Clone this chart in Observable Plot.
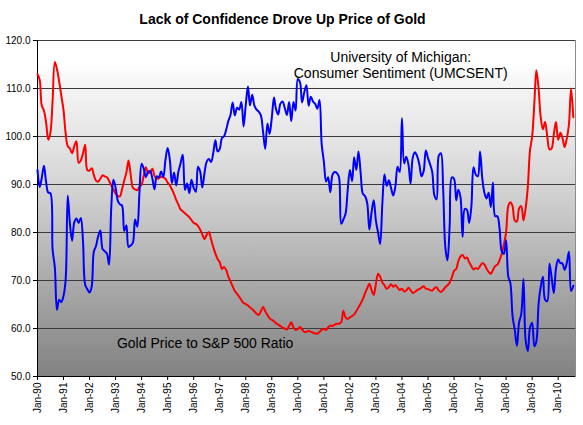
<!DOCTYPE html>
<html>
<head>
<meta charset="utf-8">
<script src="https://cdn.jsdelivr.net/npm/d3@7"></script>
<script src="https://cdn.jsdelivr.net/npm/@observablehq/plot@0.6"></script>
<style>
  html, body { margin: 0; padding: 0; background: #ffffff; }
  body { width: 583px; height: 425px; overflow: hidden; font-family: "Liberation Sans", Arial, sans-serif; }
  #title { width: 583px; height: 32px; box-sizing: border-box; padding-top: 11px; padding-right: 18px; text-align: center; font-weight: bold; font-size: 14px; line-height: 16px; color: #000; }
  #chart svg { display: block; }
</style>
</head>
<body>
<div id="title">Lack of Confidence Drove Up Price of Gold</div>
<div id="chart"></div>
<script>
// Monthly series, Jan 1990 .. Aug 2010
const startYear = 1990;

const umcsent = [
  93.0, 89.5, 91.3, 93.9, 90.6, 88.3, 88.2, 76.4, 72.8, 63.9, 66.0, 65.5,
  66.8, 70.4, 87.7, 81.8, 78.3, 82.1, 82.9, 82.0, 83.0, 78.3, 69.1, 68.2,
  67.5, 68.8, 76.0, 77.2, 79.2, 80.4, 76.6, 76.1, 75.6, 73.3, 85.3, 91.0,
  89.3, 86.6, 85.9, 85.6, 80.3, 81.5, 77.0, 77.3, 77.9, 82.7, 81.2, 88.2,
  94.3, 93.2, 91.5, 92.6, 92.8, 91.2, 89.0, 91.7, 91.5, 92.7, 91.6, 95.1,
  97.6, 95.1, 90.3, 92.5, 89.8, 92.7, 94.4, 96.2, 88.9, 90.2, 88.2, 91.0,
  89.3, 88.5, 93.7, 92.7, 89.4, 92.4, 94.7, 95.3, 94.7, 96.5, 99.2, 96.9,
  97.4, 99.7, 100.0, 101.4, 103.2, 104.5, 107.1, 104.4, 106.0, 105.6, 107.2, 102.1,
  106.6, 110.4, 106.5, 108.7, 106.5, 105.6, 105.2, 104.4, 100.9, 97.4, 102.7, 100.5,
  103.9, 108.1, 105.7, 104.6, 106.8, 107.3, 106.0, 104.5, 107.2, 103.2, 107.2, 105.4,
  112.0, 111.3, 107.1, 109.2, 110.7, 106.4, 108.3, 107.3, 106.8, 105.8, 107.6, 98.4,
  94.7, 90.6, 91.5, 88.4, 92.0, 92.6, 92.4, 91.5, 81.8, 82.7, 83.9, 88.8,
  93.0, 90.7, 95.7, 93.0, 96.9, 92.4, 88.1, 87.6, 86.1, 80.6, 84.2, 86.7,
  82.4, 79.9, 77.6, 86.0, 92.1, 89.7, 90.9, 89.3, 87.7, 89.6, 93.7, 92.6,
  103.8, 94.4, 95.8, 94.2, 90.2, 95.6, 96.7, 95.9, 94.2, 91.7, 92.8, 97.1,
  95.5, 94.1, 92.6, 87.7, 86.9, 96.0, 96.5, 89.1, 76.9, 74.2, 81.6, 91.5,
  91.2, 86.7, 88.9, 87.4, 79.1, 84.9, 84.7, 82.0, 85.4, 93.6, 92.1, 91.7,
  96.9, 91.3, 88.4, 87.1, 88.3, 85.3, 90.4, 83.4, 83.4, 80.9, 76.1, 75.5,
  78.4, 70.8, 69.5, 62.6, 59.8, 56.4, 61.2, 63.0, 70.3, 57.6, 55.3, 60.1,
  61.2, 56.3, 57.3, 65.1, 68.7, 70.8, 66.0, 65.7, 73.5, 70.6, 67.4, 72.5,
  74.4, 73.6, 73.6, 72.2, 73.6, 76.0, 67.8, 68.9
];

const goldRatio = [
  113, 111.8, 106.5, 105.4, 103, 99.3, 100.8, 107.5, 115.5, 114, 111.5, 108.5,
  105.5, 100.5, 98, 97.5, 96.5, 98, 99, 94.5, 95, 96.5, 98.3, 93,
  92.9, 93.4, 92, 90.8, 90.6, 91.2, 91.9, 91.7, 91.5, 90.8, 89.8, 89,
  88.1, 87.6, 87.5, 89, 90.8, 92.5, 95, 92, 89.3, 89, 88.8, 89.5,
  90, 92, 93.6, 92.4, 92.5, 93.3, 91.8, 91.2, 91.3, 91.6, 91.5, 91.2,
  90.4, 89.8, 89, 88, 86.8, 85.8, 84.8, 84.4, 84, 83.6, 83.2, 82.6,
  82, 81.8, 81.4, 80.6, 79.6, 78.6, 79.5, 80.1, 78.6, 77, 75.6, 74.5,
  73.8, 72.4, 72.8, 72.2, 70.8, 69.8, 68.8, 67.8, 67.2, 66.6, 65.9, 65.3,
  65.1, 64.8, 64.4, 64, 63.6, 63.1, 62.8, 63.6, 64.5, 63.6, 62.8, 62.1,
  61.8, 61.5, 61.1, 60.8, 60.5, 60.2, 60, 59.8, 60.5, 61.3, 60.2, 59.7,
  59.9, 60.3, 59.8, 59.3, 59.3, 59.5, 59.3, 59.1, 59, 58.9, 59.3, 59.7,
  59.9, 59.7, 60.2, 60.6, 60.5, 60.8, 61, 61, 61.3, 63.7, 62.3, 62,
  62.3, 62.6, 62.9, 63.6, 64.4, 65.2, 66.1, 67.3, 68.4, 69.3, 68, 67,
  69.3, 71.4, 70.8, 69.6, 69, 68.3, 68.6, 69.2, 68.7, 69, 68.5, 68,
  68.3, 67.7, 67.9, 68.5, 68, 67.4, 67.6, 68, 68.2, 68.5, 68.8, 68.3,
  68.2, 68, 67.9, 68.4, 68.6, 67.9, 67.6, 68, 68.6, 69, 69.6, 70.6,
  72, 72.4, 74, 75, 75.3, 74.6, 74.8, 73.8, 73, 72.3, 72.6, 72.4,
  73, 73.6, 73.4, 72.5, 71.8, 71.4, 72.2, 73, 73.3, 74.2, 75.6, 77.5,
  80, 85.5, 86.3, 85.5, 82.5, 82.3, 85, 85.5, 82.5, 85, 89.5, 97,
  100, 107, 113.8, 110, 104, 101.5, 103, 100, 97.3, 97.5, 100.5, 103,
  99.3, 100.8, 99.8, 97.8, 99.5, 102.5, 110, 104
];

const yTicks = [50, 60, 70, 80, 90, 100, 110, 120];
const tickYears = d3.range(1990, 2011);

const umLabel = "University of Michigan:\nConsumer Sentiment (UMCSENT)";
const goldLabel = "Gold Price to S&P 500 Ratio";

const monthDate = i => new Date(Date.UTC(startYear, i, 1));
const umData = umcsent.map((v, i) => ({date: monthDate(i), value: v}));
const goldData = goldRatio.map((v, i) => ({date: monthDate(i), value: v}));
const xStart = new Date(Date.UTC(1990, 0, 1));
const xEnd = new Date(Date.UTC(2010, 8, 1));

const chart = Plot.plot({
  width: 583,
  height: 393,
  marginLeft: 37,
  marginRight: 8,
  marginTop: 8,
  marginBottom: 49,
  style: {fontFamily: '"Liberation Sans", Arial, sans-serif', fontSize: "10px", color: "#000", background: "transparent", overflow: "visible"},
  x: {type: "utc", domain: [xStart, xEnd], ticks: tickYears.map(y => new Date(Date.UTC(y, 0, 1))),
      tickFormat: d3.utcFormat("%b-%y"), tickRotate: -90, tickSize: 4, tickPadding: 2, label: null},
  y: {domain: [50, 120], ticks: yTicks, tickFormat: d => d.toFixed(1), tickSize: 4, tickPadding: 3, label: null},
  marks: [
    Plot.frame({fill: "url(#bgGrad)", stroke: "#8c8c8c"}),
    Plot.ruleY(yTicks, {stroke: "#3a3a3a", strokeWidth: 1}),
    Plot.ruleX([xStart], {stroke: "#000", strokeWidth: 1}),
    Plot.ruleY([50], {stroke: "#000", strokeWidth: 1}),
    Plot.line(goldData, {x: "date", y: "value", stroke: "#ff0000", strokeWidth: 2, curve: "catmull-rom"}),
    Plot.line(umData, {x: "date", y: "value", stroke: "#0000ff", strokeWidth: 2, curve: "catmull-rom"}),
    Plot.text([umLabel], {x: new Date(Date.UTC(2003, 11, 15)), y: 114.9, text: d => d, fontSize: 14, fill: "#000", lineHeight: 1.1, textAnchor: "middle"}),
    Plot.text([goldLabel], {x: new Date(Date.UTC(1996, 5, 10)), y: 56.9, text: d => d, fontSize: 14, fill: "#000", textAnchor: "middle"})
  ]
});

document.getElementById("chart").appendChild(chart);
const svg = chart.tagName.toLowerCase() === "svg" ? chart : chart.querySelector("svg");
const defs = d3.select(svg).insert("defs", ":first-child");
const grad = defs.append("linearGradient").attr("id", "bgGrad").attr("x1", 0).attr("y1", 0).attr("x2", 0).attr("y2", 1);
[[0, "#ffffff"], [0.07, "#ffffff"], [0.12, "#f6f6f6"], [0.3, "#e4e4e4"], [0.5, "#cbcbcb"], [0.7, "#adadad"], [0.88, "#939393"], [1, "#828282"]]
  .forEach(([o, c]) => grad.append("stop").attr("offset", o).attr("stop-color", c));
</script>
</body>
</html>
